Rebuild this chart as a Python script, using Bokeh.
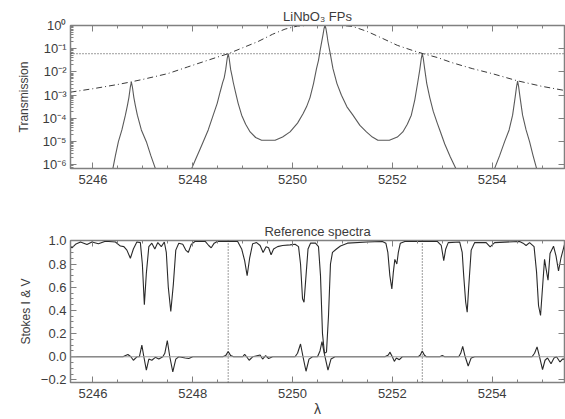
from bokeh.plotting import figure
from bokeh.layouts import column
from bokeh.models import (Range1d, LinearAxis, LogAxis, FixedTicker,
                          CustomJSTickFormatter, Span)
from bokeh.embed import file_html
from bokeh.resources import INLINE

# ---------------- data ----------------
# Top panel: LiNbO3 Fabry-Perot transmission (log scale), five orders
fp_wave = [5245.55, 5246.32, 5246.40, 5246.45, 5246.51, 5246.58, 5246.65, 5246.69,
           5246.72, 5246.75, 5246.77, 5246.79, 5246.82, 5246.85, 5246.89, 5246.97,
           5247.07, 5247.16, 5247.25, 5247.37, 5247.70,
           5247.86, 5247.98, 5248.06, 5248.15, 5248.21, 5248.31, 5248.41, 5248.49,
           5248.55, 5248.60, 5248.63, 5248.66, 5248.69, 5248.71, 5248.73, 5248.76,
           5248.79, 5248.81, 5248.86, 5248.91, 5248.98, 5249.06, 5249.15, 5249.26,
           5249.38, 5249.52, 5249.65,
           5249.80, 5249.95, 5250.10, 5250.21, 5250.28, 5250.35, 5250.42, 5250.48,
           5250.52, 5250.55, 5250.58, 5250.61, 5250.63, 5250.65, 5250.67, 5250.69,
           5250.71, 5250.75, 5250.81, 5250.89, 5250.98, 5251.09, 5251.21, 5251.35,
           5251.48, 5251.60, 5251.71, 5251.83, 5251.94,
           5252.10, 5252.21, 5252.30, 5252.38, 5252.45, 5252.51, 5252.55, 5252.58,
           5252.60, 5252.62, 5252.65, 5252.69, 5252.75, 5252.82, 5252.90, 5252.95,
           5253.05, 5253.16, 5253.27, 5253.40, 5253.75,
           5253.93, 5254.05, 5254.15, 5254.25, 5254.34, 5254.41, 5254.46, 5254.49,
           5254.51, 5254.53, 5254.56, 5254.61, 5254.68, 5254.75, 5254.82, 5254.89,
           5255.01, 5255.45]
fp_trans = [1e-8, 2.0e-7, 7.1e-7, 2.5e-6, 1.0e-5, 3.2e-5, 1.38e-4, 3.55e-4,
            7.9e-4, 2.3e-3, 3.7e-3, 2.3e-3, 7.9e-4, 3.55e-4, 1.38e-4, 3.2e-5,
            1.0e-5, 2.5e-6, 7.1e-7, 2.0e-7, 5e-8,
            2.0e-7, 7.1e-7, 1.78e-6, 5.0e-6, 1.0e-5, 3.2e-5, 1.38e-4, 4.47e-4,
            1.41e-3, 3.55e-3, 5.6e-3, 1.26e-2, 3.8e-2, 0.061, 3.8e-2, 1.26e-2,
            6.3e-3, 3.7e-3, 1.26e-3, 4.47e-4, 1.38e-4, 5.6e-5, 2.63e-5, 1.51e-5,
            1.15e-5, 1.15e-5, 1.15e-5,
            1.58e-5, 2.63e-5, 6.3e-5, 1.58e-4, 3.16e-4, 7.9e-4, 3.16e-3, 1.38e-2,
            3.16e-2, 7.9e-2, 0.178, 0.398, 0.724, 1.0, 0.724, 0.398,
            0.2, 7.1e-2, 1.38e-2, 3.16e-3, 1.0e-3, 3.16e-4, 1.38e-4, 5.0e-5,
            2.63e-5, 1.58e-5, 1.15e-5, 1.15e-5, 1.15e-5,
            1.58e-5, 2.63e-5, 5.6e-5, 1.38e-4, 6.3e-4, 3.7e-3, 1.26e-2, 3.8e-2,
            0.061, 3.8e-2, 1.26e-2, 3.16e-3, 7.9e-4, 2.0e-4, 6.3e-5, 3.16e-5,
            7.9e-6, 2.24e-6, 7.1e-7, 2.0e-7, 5e-8,
            2.0e-7, 7.1e-7, 2.5e-6, 1.0e-5, 3.2e-5, 1.38e-4, 7.9e-4, 2.4e-3,
            4.0e-3, 2.4e-3, 7.9e-4, 1.38e-4, 3.2e-5, 1.0e-5, 2.5e-6, 7.1e-7,
            2.0e-7, 1e-8]

# Envelope (dash-dot)
env_wave = [5245.55, 5246.0, 5246.5, 5246.78, 5247.0, 5247.5, 5247.9, 5248.2,
            5248.5, 5248.71, 5249.0, 5249.3, 5249.6, 5249.85, 5250.1, 5250.3,
            5251.0, 5251.2, 5251.5, 5251.8, 5252.1, 5252.4, 5252.62, 5252.9,
            5253.2, 5253.6, 5254.0, 5254.5, 5255.0, 5255.45]
env_trans = [0.00135, 0.0019, 0.0029, 0.0038, 0.0048, 0.0085, 0.0165, 0.027,
             0.044, 0.061, 0.11, 0.2, 0.42, 0.7, 0.95, 1.0,
             1.0, 0.92, 0.55, 0.28, 0.14, 0.085, 0.061, 0.042,
             0.025, 0.014, 0.0085, 0.0042, 0.0024, 0.0016]

threshold = 0.061
fp_side_peaks = [5248.71, 5252.60]

# Bottom panel: Stokes I
i_wave = [5245.45, 5245.52, 5245.58, 5245.65, 5245.75, 5245.88, 5245.98, 5246.11,
          5246.25, 5246.45, 5246.55, 5246.62, 5246.68, 5246.75, 5246.81, 5246.88,
          5246.95, 5246.99, 5247.03, 5247.07, 5247.12, 5247.18, 5247.24, 5247.30,
          5247.37, 5247.43, 5247.47, 5247.51, 5247.56, 5247.61, 5247.66, 5247.72,
          5247.80, 5247.86, 5247.91, 5247.97, 5248.05, 5248.25, 5248.32, 5248.37,
          5248.43, 5248.50, 5248.90, 5248.98, 5249.04, 5249.09, 5249.14, 5249.20,
          5249.28, 5249.35, 5249.41, 5249.47, 5249.52, 5249.57, 5249.62, 5249.70,
          5249.80, 5249.95, 5250.05, 5250.12, 5250.16, 5250.20, 5250.23, 5250.27,
          5250.31, 5250.36, 5250.46, 5250.52, 5250.56, 5250.60, 5250.64, 5250.68,
          5250.72, 5250.76, 5250.80, 5250.88, 5250.96, 5251.10, 5251.50, 5251.80,
          5251.87, 5251.91, 5251.95, 5251.99, 5252.02, 5252.05, 5252.09, 5252.12,
          5252.16, 5252.25, 5252.90, 5252.98, 5253.03, 5253.07, 5253.12, 5253.35,
          5253.40, 5253.43, 5253.47, 5253.50, 5253.53, 5253.58, 5253.65, 5253.88,
          5253.96, 5254.05, 5254.55, 5254.62, 5254.68, 5254.75, 5254.84, 5254.89,
          5254.93, 5254.97, 5255.01, 5255.05, 5255.08, 5255.12, 5255.16, 5255.23,
          5255.28, 5255.33, 5255.38, 5255.45]
i_flux = [0.93, 0.95, 0.94, 0.97, 0.99, 0.968, 0.99, 0.975,
          0.997, 0.99, 0.955, 0.95, 0.92, 0.85, 0.93, 0.99,
          0.985, 0.80, 0.45, 0.72, 0.95, 0.98, 0.93, 0.985,
          0.95, 0.99, 0.90, 0.60, 0.39, 0.62, 0.92, 0.98,
          0.97, 0.92, 0.90, 0.97, 0.997, 0.995, 0.96, 0.94,
          0.98, 0.997, 0.995, 0.93, 0.83, 0.70, 0.85, 0.975,
          0.985, 0.96, 0.90, 0.95, 0.94, 0.88, 0.93, 0.95,
          0.96, 0.965, 0.97, 0.95, 0.80, 0.50, 0.47, 0.70,
          0.93, 0.98, 0.98, 0.95, 0.70, 0.20, 0.03, 0.04,
          0.35, 0.80, 0.90, 0.93, 0.955, 0.98, 0.99, 0.995,
          0.98, 0.90, 0.70, 0.585, 0.73, 0.84, 0.80, 0.90,
          0.98, 0.995, 0.995, 0.96, 0.83, 0.93, 0.985, 0.99,
          0.90, 0.70, 0.47, 0.385, 0.60, 0.92, 0.985, 0.985,
          0.948, 0.985, 0.995, 0.98, 0.96, 0.985, 0.95, 0.73,
          0.44, 0.356, 0.60, 0.84, 0.76, 0.66, 0.89, 0.954,
          0.87, 0.74, 0.854, 0.968]

# Bottom panel: Stokes V
v_wave = [5245.45, 5246.60, 5246.70, 5246.76, 5246.81, 5246.88, 5246.93, 5246.98,
          5247.02, 5247.07, 5247.12, 5247.18, 5247.25, 5247.32, 5247.40, 5247.44,
          5247.49, 5247.54, 5247.60, 5247.66, 5247.72, 5247.85, 5247.92, 5248.00,
          5248.60, 5248.66, 5248.71, 5248.76, 5248.82, 5249.00, 5249.04, 5249.08,
          5249.13, 5249.20, 5249.35, 5249.40, 5249.46, 5249.52, 5249.60, 5250.05,
          5250.10, 5250.16, 5250.21, 5250.27, 5250.33, 5250.40, 5250.50, 5250.55,
          5250.59, 5250.64, 5250.71, 5250.77, 5250.85, 5251.85, 5251.92, 5251.95,
          5252.00, 5252.04, 5252.08, 5252.14, 5252.20, 5252.52, 5252.56, 5252.60,
          5252.64, 5252.68, 5252.95, 5253.00, 5253.05, 5253.33, 5253.37, 5253.41,
          5253.46, 5253.52, 5253.58, 5253.65, 5254.80, 5254.85, 5254.90, 5254.95,
          5255.01, 5255.06, 5255.11, 5255.18, 5255.24, 5255.29, 5255.36, 5255.41,
          5255.45]
v_sig = [0.0, 0.0, 0.02, 0.0, -0.03, 0.0, 0.0, 0.10,
         0.0, -0.115, -0.02, -0.03, -0.005, -0.02, 0.0, 0.03,
         0.14, 0.0, -0.13, -0.02, 0.0, -0.01, -0.015, 0.0,
         0.0, 0.01, 0.045, 0.01, 0.0, 0.0, 0.02, 0.0,
         -0.03, 0.0, 0.015, -0.02, 0.01, -0.015, 0.0, 0.0,
         0.03, 0.11, 0.0, -0.125, -0.02, 0.0, 0.0, 0.05,
         0.13, 0.02, -0.115, -0.02, 0.0, 0.0, 0.015, 0.04,
         0.0, -0.04, -0.01, -0.025, 0.0, 0.0, 0.015, 0.05,
         0.015, 0.0, 0.0, 0.01, 0.0, 0.0, 0.03, 0.09,
         0.0, -0.08, -0.01, 0.0, 0.0, 0.03, 0.085, 0.0,
         -0.11, -0.03, -0.01, -0.06, -0.01, 0.0, -0.045, -0.02,
         -0.02]

x_major = [5246, 5248, 5250, 5252, 5254]
x_minor = [5245.5 + 0.5 * k for k in range(21)]
log_major = [1e-6, 1e-5, 1e-4, 1e-3, 1e-2, 1e-1, 1.0]
log_minor = [m * d for d in [1e-7, 1e-6, 1e-5, 1e-4, 1e-3, 1e-2, 1e-1] for m in range(2, 10)]
lin_major = [-0.2, 0.0, 0.2, 0.4, 0.6, 0.8, 1.0]
lin_minor = [round(-0.2 + 0.05 * k, 2) for k in range(26)]

# ---------------- style ----------------
FONT = "Liberation Sans"
TXT = "#3c3c3c"
AXC = "#808080"
LINE = "#2a2a2a"
X_RANGE = (5245.55, 5255.45)

sup_js = """
const e = Math.round(Math.log10(tick));
const s = {'-':'\u207b','0':'\u2070','1':'\u00b9','2':'\u00b2','3':'\u00b3','4':'\u2074','5':'\u2075','6':'\u2076','7':'\u2077','8':'\u2078','9':'\u2079'};
return '10' + String(e).split('').map(c => s[c]).join('');
"""
lin_js = """
let t = tick.toFixed(1);
if (t === '-0.0') t = '0.0';
return t.replace('-', '\u2212');
"""


def style_axis(ax, major, minor, labels=True, minor_in=3):
    ax.ticker = FixedTicker(ticks=major, minor_ticks=minor)
    ax.axis_line_color = AXC
    ax.major_tick_line_color = AXC
    ax.minor_tick_line_color = AXC
    ax.major_tick_in = 6
    ax.major_tick_out = 0
    ax.minor_tick_in = minor_in
    ax.minor_tick_out = 0
    ax.major_label_text_font = FONT
    ax.major_label_text_color = TXT
    ax.major_label_text_font_size = "13px"
    ax.axis_label_text_font = FONT
    ax.axis_label_text_color = TXT
    ax.axis_label_text_font_size = "12px"
    ax.axis_label_text_font_style = "normal"
    if not labels:
        ax.major_label_text_font_size = "1px"
        ax.major_label_text_color = None
        ax.major_label_standoff = 0


def make_fig(height, ylog, y_range, top, bottom, title):
    kw = dict(width=565, height=height, output_backend="svg", toolbar_location=None,
              x_range=Range1d(*X_RANGE), y_range=Range1d(*y_range),
              min_border_left=70, min_border_right=1,
              min_border_top=top, min_border_bottom=bottom,
              title=title)
    if ylog:
        kw["y_axis_type"] = "log"
    p = figure(**kw)
    p.grid.visible = False
    p.outline_line_color = AXC
    p.outline_line_width = 1.5
    p.background_fill_color = "white"
    p.border_fill_color = "white"
    p.title.align = "center"
    p.title.text_font = FONT
    p.title.text_font_style = "normal"
    p.title.text_font_size = "13px"
    p.title.text_color = TXT
    p.title.standoff = 3
    return p


# ---------------- top panel ----------------
p1 = make_fig(210, True, (7e-7, 1.0), 25, 42, "LiNbO\u2083 FPs")
style_axis(p1.xaxis[0], x_major, x_minor)
style_axis(p1.yaxis[0], log_major, log_minor)
p1.yaxis[0].formatter = CustomJSTickFormatter(code=sup_js)
p1.yaxis[0].axis_label = "Transmission"
p1.yaxis[0].major_label_standoff = 4
p1.yaxis[0].axis_label_standoff = 8
p1.xaxis[0].major_label_standoff = 6
top1 = LinearAxis()
style_axis(top1, x_major, x_minor, labels=False)
p1.add_layout(top1, "above")
right1 = LogAxis()
style_axis(right1, log_major, log_minor, labels=False, minor_in=0)
p1.add_layout(right1, "right")

p1.line(fp_wave, fp_trans, line_color="#5a5a5a", line_width=1.1)
p1.line(env_wave, env_trans, line_color="#3a3a3a", line_width=1.0, line_dash="6 3 1 3")
p1.add_layout(Span(location=threshold, dimension="width", line_color="#3a3a3a",
                   line_width=1, line_dash="1 2"))

# ---------------- bottom panel ----------------
p2 = make_fig(209, False, (-0.222, 1.003), 30, 36, "Reference spectra")
style_axis(p2.xaxis[0], x_major, x_minor)
style_axis(p2.yaxis[0], lin_major, lin_minor)
p2.yaxis[0].formatter = CustomJSTickFormatter(code=lin_js)
p2.yaxis[0].axis_label = "Stokes I & V"
p2.yaxis[0].major_label_standoff = 4
p2.yaxis[0].axis_label_standoff = 5
p2.xaxis[0].major_label_standoff = 6
p2.xaxis[0].axis_label = "\u03bb"
p2.xaxis[0].axis_label_standoff = 0
p2.xaxis[0].axis_label_text_font_size = "14px"
top2 = LinearAxis()
style_axis(top2, x_major, x_minor, labels=False)
p2.add_layout(top2, "above")
right2 = LinearAxis()
style_axis(right2, lin_major, lin_minor, labels=False, minor_in=0)
p2.add_layout(right2, "right")

p2.add_layout(Span(location=0.0, dimension="width", line_color="#9a9a9a", line_width=1))
for wl in fp_side_peaks:
    p2.add_layout(Span(location=wl, dimension="height", line_color="#3a3a3a",
                       line_width=1, line_dash="1 2"))
p2.line(i_wave, i_flux, line_color=LINE, line_width=1.1)
p2.line(v_wave, v_sig, line_color=LINE, line_width=1.1)

layout = column(p1, p2, spacing=0)
open("out.html", "w").write(file_html(layout, INLINE))
